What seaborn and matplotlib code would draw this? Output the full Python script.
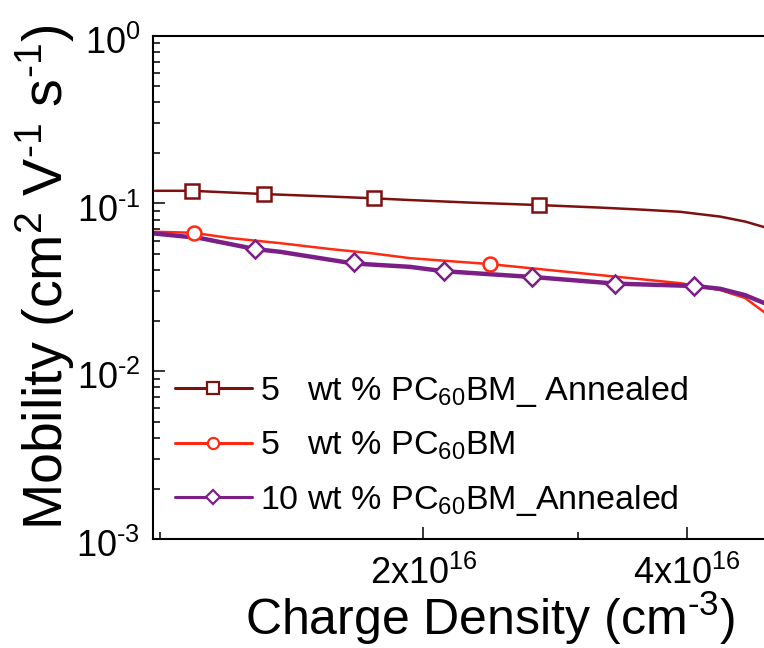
import matplotlib
matplotlib.use("Agg")
import matplotlib.pyplot as plt
import matplotlib.transforms as mtransforms
import seaborn as sns
import pandas as pd
from matplotlib.lines import Line2D
from matplotlib.ticker import FixedLocator, FixedFormatter, LogLocator, NullFormatter

# ---------------- data ----------------
labels = ["5   wt % PC$_{60}$BM_ Annealed",
          "5   wt % PC$_{60}$BM",
          "10 wt % PC$_{60}$BM_Annealed"]

ann5_x = [9.87e15, 1.087e16, 1.315e16, 1.565e16, 1.758e16, 1.931e16, 2.262e16,
          2.719e16, 3.184e16, 3.538e16, 3.931e16, 4.367e16, 4.664e16, 4.903e16]
ann5_y = [0.1190, 0.1190, 0.1138, 0.1100, 0.1073, 0.1048, 0.1012,
          0.0978, 0.0945, 0.0920, 0.0892, 0.0835, 0.0780, 0.0723]

pc5_x = [9.87e15, 1.091e16, 1.203e16, 1.372e16, 1.565e16, 1.739e16, 1.931e16,
         2.384e16, 2.866e16, 3.357e16, 3.931e16, 4.367e16, 4.664e16, 4.903e16]
pc5_y = [0.0678, 0.0669, 0.0622, 0.0580, 0.0535, 0.0506, 0.0472,
         0.0435, 0.0395, 0.0364, 0.0335, 0.0305, 0.0273, 0.0225]

ann10_x = [9.83e15, 1.111e16, 1.284e16, 1.372e16, 1.663e16, 1.931e16, 2.106e16,
           2.676e16, 3.313e16, 4.089e16, 4.367e16, 4.664e16, 4.903e16]
ann10_y = [0.0663, 0.0622, 0.0535, 0.0515, 0.0439, 0.0419, 0.0395,
           0.0364, 0.0333, 0.0322, 0.0310, 0.0284, 0.0255]

# marker positions
ann5_mx = [1.087e16, 1.316e16, 1.758e16, 2.712e16]
ann5_my = [0.1190, 0.1138, 0.1073, 0.0982]
pc5_mx = [1.093e16, 2.384e16]
pc5_my = [0.0663, 0.0433]
ann10_mx = [1.283e16, 1.665e16, 2.114e16, 2.662e16, 3.307e16, 4.078e16]
ann10_my = [0.0535, 0.0447, 0.0395, 0.0364, 0.0331, 0.0322]

x_major = [2e16, 4e16]
x_major_labels = ["2x10$^{16}$", "4x10$^{16}$"]
x_minor = [1e16, 3e16]
y_major = [1e-3, 1e-2, 1e-1, 1e0]
y_major_labels = [r"10$^{\text{-}3}$", r"10$^{\text{-}2}$", r"10$^{\text{-}1}$", "10$^{0}$"]

# ---------------- style ----------------
sns.set_theme(style="white")
plt.rcParams["font.family"] = ["Liberation Sans", "DejaVu Sans"]
plt.rcParams["mathtext.fontset"] = "custom"
plt.rcParams["mathtext.rm"] = "Liberation Sans"
plt.rcParams["mathtext.it"] = "Liberation Sans:italic"
plt.rcParams["mathtext.bf"] = "Liberation Sans:bold"
plt.rcParams["mathtext.default"] = "regular"
plt.rcParams["axes.unicode_minus"] = False

colors = ["#7f1010", "#ff2a12", "#7b1f86"]
markers = ["s", "o", "D"]
msizes = [10, 10, 9]
lws = [1.8, 1.8, 3.2]

fig = plt.figure(figsize=(7.64, 6.48), dpi=100)
ax = fig.add_axes([0.1999, 0.1682, 0.8101, 0.7767])

series = [(ann5_x, ann5_y, ann5_mx, ann5_my),
          (pc5_x, pc5_y, pc5_mx, pc5_my),
          (ann10_x, ann10_y, ann10_mx, ann10_my)]

for (lx, ly, mx, my), c, lw in zip(series, colors, lws):
    df = pd.DataFrame({"x": lx, "y": ly})
    sns.lineplot(data=df, x="x", y="y", color=c, lw=lw, ax=ax,
                 sort=False, estimator=None)
for (lx, ly, mx, my), c, m, ms in zip(series, colors, markers, msizes):
    dm = pd.DataFrame({"x": mx, "y": my})
    sns.lineplot(data=dm, x="x", y="y", color=c, ax=ax, sort=False, estimator=None,
                 linestyle="none", marker=m, markersize=ms,
                 markerfacecolor="white", markeredgecolor=c, markeredgewidth=1.8,
                 zorder=5)

ax.set_xscale("log")
ax.set_yscale("log")
ax.set_xlim(9.81e15, 5.0e16)
ax.set_ylim(1e-3, 1e0)

ax.xaxis.set_major_locator(FixedLocator(x_major))
ax.xaxis.set_major_formatter(FixedFormatter(x_major_labels))
ax.xaxis.set_minor_locator(FixedLocator(x_minor))
ax.xaxis.set_minor_formatter(NullFormatter())
ax.yaxis.set_major_locator(FixedLocator(y_major))
ax.yaxis.set_major_formatter(FixedFormatter(y_major_labels))
ax.yaxis.set_minor_locator(LogLocator(base=10, subs=range(2, 10), numticks=20))
ax.yaxis.set_minor_formatter(NullFormatter())

ax.tick_params(axis="both", which="major", direction="in", length=8.6, width=1.1,
               labelsize=26, color="black", labelcolor="black")
ax.tick_params(axis="both", which="minor", direction="in", length=5, width=1.1,
               color="black")
ax.tick_params(axis="x", which="both", bottom=True, top=False, pad=12)
ax.tick_params(axis="y", which="both", left=True, right=False, pad=9)

# nudge y tick labels slightly down like the reference
offset = mtransforms.ScaledTranslation(0, -4 / 100, fig.dpi_scale_trans)
for lbl in ax.get_yticklabels():
    lbl.set_transform(lbl.get_transform() + offset)

for s in ax.spines.values():
    s.set_color("black")
    s.set_linewidth(1.5)
ax.spines["right"].set_visible(False)

ax.set_xlabel(r"Charge Density (cm$^{\text{-}3}$)", fontsize=36, color="black")
ax.set_ylabel(r"Mobility (cm$^{2}$ V$^{\text{-}1}$ s$^{\text{-}1}$)", fontsize=40, color="black")
ax.xaxis.label.set_va("bottom")
ax.xaxis.set_label_coords(490 / 764, 1 / 648, transform=fig.transFigure)
ax.yaxis.set_label_coords(45 / 764, 1 - 277 / 648, transform=fig.transFigure)
ax.yaxis.label.set_va("center")

handles = [Line2D([], [], color=c, lw=2.2, marker=m, markersize=ms * 0.8,
                  markerfacecolor="white", markeredgecolor=c, markeredgewidth=1.6)
           for c, m, ms in zip(colors, markers, msizes)]
leg = ax.legend(handles, labels, loc="center left",
                bbox_to_anchor=(175 / 764, 1 - 446 / 648),
                bbox_transform=fig.transFigure, frameon=False, fontsize=24.5,
                handlelength=2.25, handletextpad=0.25, labelspacing=0.6,
                borderpad=0, borderaxespad=0)
for t in leg.get_texts():
    t.set_color("black")

fig.savefig("out.png", dpi=100)
